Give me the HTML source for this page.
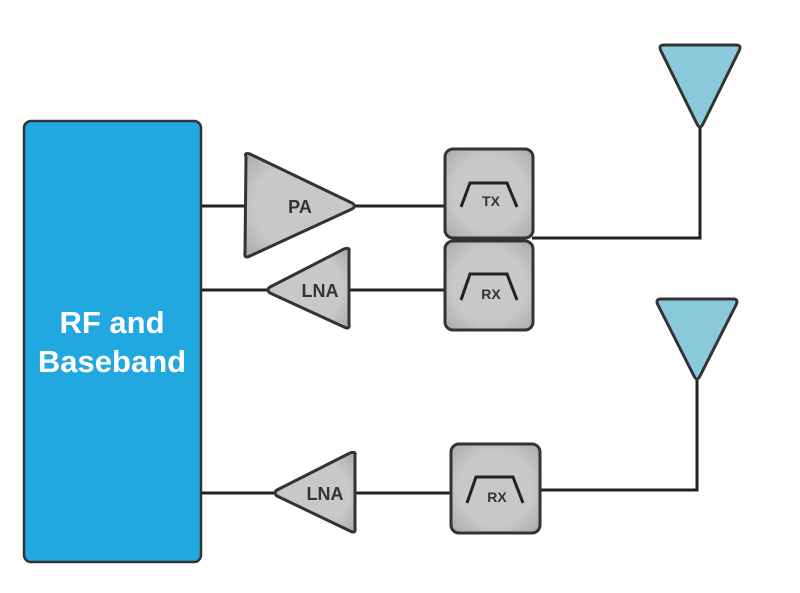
<!DOCTYPE html>
<html><head><style>body{margin:0;background:#fff}svg{display:block}</style></head><body>
<svg width="800" height="593" viewBox="0 0 800 593" xmlns="http://www.w3.org/2000/svg" font-family="Liberation Sans, sans-serif" font-weight="bold">
<defs>
<radialGradient id="g" cx="50%" cy="50%" r="70%"><stop offset="60%" stop-color="#c8c8ca"/><stop offset="100%" stop-color="#a9a9ab"/></radialGradient>
</defs>
<g stroke="#222" stroke-width="3" fill="none">
<line x1="201" y1="206" x2="246" y2="206"/>
<line x1="354" y1="206" x2="446" y2="206"/>
<line x1="201" y1="290" x2="268" y2="290"/>
<line x1="349" y1="290" x2="446" y2="290"/>
<polyline points="532,238 700,238 700,126"/>
<line x1="201" y1="493" x2="275" y2="493"/>
<line x1="355" y1="493" x2="452" y2="493"/>
<polyline points="539,490 697,490 697,378"/>
</g>
<rect x="24" y="121" width="177" height="441" rx="7" fill="#22a8e0" stroke="#333" stroke-width="2.5"/>
<text x="112" y="333" fill="#fff" font-size="31" text-anchor="middle">RF and</text>
<text x="112" y="372" fill="#fff" font-size="31" text-anchor="middle">Baseband</text>
<g stroke="#333" stroke-width="3" stroke-linejoin="round" fill="url(#g)">
<path d="M246 157 Q244 152 250 154 L352 203 Q357 206 352 209 L250 256 Q244 259 245 253 Z"/>
<path d="M349 251 Q350 247 344 249 L270 287 Q266 290 270 293 L344 327 Q350 330 349 324 Z"/>
<path d="M355 455 Q356 451 350 453 L277 490 Q273 493 277 496 L350 531 Q356 534 355 528 Z"/>
<rect x="445" y="149" width="88" height="89" rx="8"/>
<rect x="445" y="241" width="88" height="89" rx="8"/>
<rect x="451" y="444" width="89" height="89" rx="8"/>
</g>
<g stroke="#222" stroke-width="3" fill="none">
<path d="M461 207 L470 183 L507 183 L517 207"/>
<path d="M461 300 L470 274 L507 274 L517 300"/>
<path d="M467 503 L476 477 L513 477 L523 503"/>
</g>
<g fill="#333" text-anchor="middle">
<text x="300" y="213" font-size="18">PA</text>
<text x="320" y="297" font-size="18">LNA</text>
<text x="325" y="500" font-size="18">LNA</text>
<text x="491" y="206" font-size="14">TX</text>
<text x="491" y="299" font-size="14">RX</text>
<text x="497" y="502" font-size="14">RX</text>
</g>
<g fill="#8ac9da" stroke="#333" stroke-width="3" stroke-linejoin="round">
<path d="M664 45 L736 45 Q742 45 739 51 L703 124 Q700 130 697 124 L661 51 Q658 45 664 45 Z"/>
<path d="M661 299 L733 299 Q739 299 736 305 L700 376 Q697 382 694 376 L658 305 Q655 299 661 299 Z"/>
</g>
</svg>
</body></html>
